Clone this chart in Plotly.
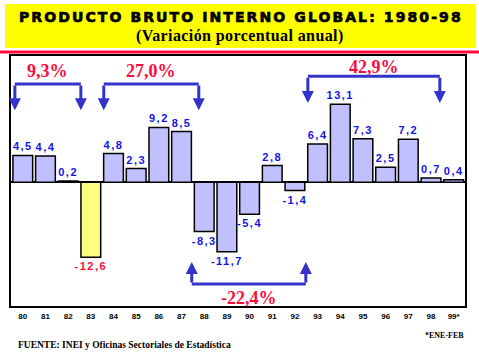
import plotly.graph_objects as go

# ---- data ----
years = ["80", "81", "82", "83", "84", "85", "86", "87", "88", "89",
         "90", "91", "92", "93", "94", "95", "96", "97", "98", "99*"]
growth = [4.5, 4.4, 0.2, -12.6, 4.8, 2.3, 9.2, 8.5, -8.3, -11.7,
          -5.4, 2.8, -1.4, 6.4, 13.1, 7.3, 2.5, 7.2, 0.7, 0.4]
highlight_year = "83"

# accumulated-period brackets: (label, x_left, x_right, y_bar, y_tip)
period_labels = ["9,3%", "27,0%", "42,9%", "-22,4%"]
period_left = [-0.35, 3.57, 12.57, 7.45]
period_right = [2.56, 7.76, 18.39, 12.48]
period_bar = [16.5, 16.5, 17.8, -17.1]
period_tip = [12.1, 12.1, 13.3, -13.4]
period_text_y = [18.6, 18.6, 19.3, -19.4]

BLUE_BAR = "#C0C0FF"
YELLOW_BAR = "#FFFF80"
LABEL_BLUE = "#1414E6"
RED = "#FF0A3C"
BRACKET = "#3333CC"

x = list(range(len(years)))
colors = [YELLOW_BAR if y == highlight_year else BLUE_BAR for y in years]
label_colors = [RED if y == highlight_year else LABEL_BLUE for y in years]
texts = ['<span style="letter-spacing:1.5px">%s</span>' % (f"{v:.1f}".replace(".", ","))
         for v in growth]

fig = go.Figure()
fig.add_trace(go.Bar(
    x=x, y=growth, width=0.87,
    marker=dict(color=colors, line=dict(color="black", width=1.5)),
    text=texts, textposition="outside", constraintext="none",
    textfont=dict(family="Liberation Sans", size=11, color=label_colors, weight="bold"),
    cliponaxis=False, hoverinfo="skip",
))

shapes = []
annotations = []
for lab, xl, xr, yb, yt, ty in zip(period_labels, period_left, period_right,
                                    period_bar, period_tip, period_text_y):
    shapes.append(dict(type="line", xref="x", yref="y", x0=xl, x1=xr, y0=yb, y1=yb,
                       line=dict(color=BRACKET, width=3)))
    for xx in (xl, xr):
        annotations.append(dict(x=xx, y=yt, ax=xx, ay=yb, xref="x", yref="y",
                                axref="x", ayref="y", text="", showarrow=True,
                                arrowhead=2, arrowsize=0.8, arrowwidth=3,
                                arrowcolor=BRACKET))
    annotations.append(dict(x=(xl + xr) / 2, y=ty, xref="x", yref="y", text=lab,
                            showarrow=False,
                            font=dict(family="Liberation Serif", size=18, color=RED,
                                      weight="bold")))

# title box and red rule
shapes.append(dict(type="rect", xref="paper", yref="paper", x0=-0.0132, x1=1.0242,
                   y0=1.032, y1=1.208, fillcolor="#FFFF00", line=dict(width=0), layer="below"))
shapes.append(dict(type="line", xref="paper", yref="paper", x0=-0.03, x1=1.04,
                   y0=1.016, y1=1.016, line=dict(color=RED, width=3)))

annotations += [
    dict(x=0.013, y=1.158, xref="paper", yref="paper", showarrow=False,
         xanchor="left", yanchor="middle",
         text='<span style="letter-spacing:2.1px;stroke:black;stroke-width:0.7px">'
              'PRODUCTO BRUTO INTERNO GLOBAL: 1980-98</span>',
         font=dict(family="DejaVu Sans", size=14, color="black", weight="bold")),
    dict(x=0.504, y=1.08, xref="paper", yref="paper", showarrow=False,
         xanchor="center", yanchor="middle",
         text='<span style="letter-spacing:0.4px">(Variación porcentual anual)</span>',
         font=dict(family="Liberation Serif", size=16, color="black", weight="bold")),
    dict(x=1.003, y=-0.116, xref="paper", yref="paper", showarrow=False,
         xanchor="right", yanchor="middle",
         text="*ENE-FEB",
         font=dict(family="Liberation Serif", size=8, color="black", weight="bold")),
    dict(x=0.01, y=-0.157, xref="paper", yref="paper", showarrow=False,
         xanchor="left", yanchor="middle",
         text="FUENTE: INEI y Oficinas Sectoriales de Estadística",
         font=dict(family="Liberation Serif", size=9.5, color="black", weight="bold")),
]

fig.update_layout(
    width=479, height=359,
    margin=dict(l=11, r=14, t=56, b=53),
    paper_bgcolor="white", plot_bgcolor="white",
    showlegend=False,
    shapes=shapes, annotations=annotations,
    xaxis=dict(range=[-0.52, 19.5], tickmode="array", tickvals=x, ticktext=years,
               showgrid=False, zeroline=False, showline=True, mirror=True,
               linecolor="black", linewidth=2, ticks="", ticklen=0,
               ticklabelstandoff=1,
               tickfont=dict(family="Liberation Sans", size=8, color="black", weight="bold")),
    yaxis=dict(range=[-20.8, 21.2], showgrid=False, showticklabels=False,
               zeroline=True, zerolinecolor="black", zerolinewidth=1.5,
               showline=True, mirror=True, linecolor="black", linewidth=2, ticks=""),
)

fig.write_html("out.html", post_script="document.body.style.margin='0px';",
               config={"displayModeBar": False})
